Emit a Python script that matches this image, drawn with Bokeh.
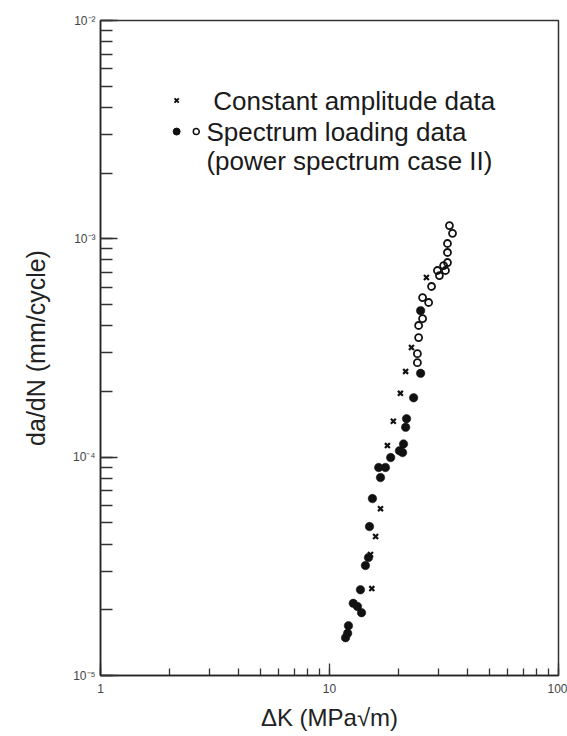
from bokeh.plotting import figure
from bokeh.models import CustomJSTickFormatter, Label, LogTicker
from bokeh.embed import file_html
from bokeh.resources import INLINE

# ---- data ----
const_dk = [15.3, 15.1, 15.9, 16.7, 17.9, 19.0, 20.4, 21.5, 22.8, 26.5]
const_rate = [2.50e-5, 3.58e-5, 4.33e-5, 5.81e-5, 1.13e-4, 1.46e-4, 1.96e-4, 2.47e-4, 3.18e-4, 6.65e-4]

spec_filled_dk = [11.75, 12.0, 12.1, 12.7, 13.25, 13.8, 13.65, 14.35, 14.8, 14.95, 15.4,
                  16.7, 16.4, 17.55, 18.5, 20.2, 21.05, 20.85, 21.7, 21.5, 23.3, 25.0, 25.0]
spec_filled_rate = [1.49e-5, 1.56e-5, 1.69e-5, 2.14e-5, 2.07e-5, 1.94e-5, 2.47e-5, 3.19e-5, 3.47e-5,
                    4.81e-5, 6.46e-5, 8.06e-5, 8.97e-5, 8.97e-5, 9.96e-5, 1.07e-4, 1.15e-4, 1.05e-4,
                    1.50e-4, 1.37e-4, 1.87e-4, 2.42e-4, 4.69e-4]

spec_open_dk = [33.4, 34.45, 32.75, 32.75, 32.75, 31.5, 29.6, 32.1, 30.2, 27.9, 25.5, 27.1,
                25.5, 24.5, 24.5, 24.2, 24.2]
spec_open_rate = [1.15e-3, 1.06e-3, 9.52e-4, 8.66e-4, 7.79e-4, 7.54e-4, 7.16e-4, 7.16e-4, 6.79e-4,
                  6.05e-4, 5.38e-4, 5.11e-4, 4.31e-4, 4.01e-4, 3.53e-4, 2.98e-4, 2.71e-4]

legend_texts = ["Constant amplitude data", "Spectrum loading data", "(power spectrum case II)"]
x_label = "ΔK (MPa√m)"
y_label = "da/dN (mm/cycle)"

# ---- figure ----
FONT = "Liberation Sans"
INK = "#111111"

p = figure(width=567, height=736, x_axis_type="log", y_axis_type="log",
           x_range=(1, 100), y_range=(1e-5, 1e-2),
           output_backend="svg", toolbar_location=None,
           min_border_left=100, min_border_right=9, min_border_top=20, min_border_bottom=61)
p.background_fill_color = "white"
p.border_fill_color = "white"
p.outline_line_color = "#333333"
p.outline_line_width = 1.5
p.xgrid.visible = False
p.ygrid.visible = False

sup_js = """
const m = {'-':'\u207b','0':'\u2070','1':'\u00b9','2':'\u00b2','3':'\u00b3','4':'\u2074','5':'\u2075','6':'\u2076','7':'\u2077','8':'\u2078','9':'\u2079'};
const e = Math.round(Math.log10(tick));
return '10' + String(e).split('').map(c => m[c]).join('');
"""
p.yaxis.formatter = CustomJSTickFormatter(code=sup_js)
p.xaxis.formatter = CustomJSTickFormatter(code="return String(Math.round(tick));")
p.xaxis.ticker = LogTicker(num_minor_ticks=10)
p.yaxis.ticker = LogTicker(num_minor_ticks=10)

for ax in (p.xaxis, p.yaxis):
    ax.axis_line_color = "#222222"
    ax.axis_line_width = 1.5
    ax.major_tick_line_color = "#333333"
    ax.minor_tick_line_color = "#333333"
    ax.major_tick_line_width = 1.3
    ax.minor_tick_line_width = 1.3
    ax.major_tick_out = 0
    ax.minor_tick_out = 0
    ax.major_label_text_font = FONT
    ax.major_label_text_font_size = "12px"
    ax.major_label_text_color = "#444444"
    ax.axis_label_text_font = FONT
    ax.axis_label_text_font_style = "normal"
    ax.axis_label_text_color = "#222222"

p.yaxis.major_tick_in = 17
p.yaxis.minor_tick_in = 12
p.xaxis.major_tick_in = 12
p.xaxis.minor_tick_in = 7
p.yaxis.major_label_standoff = 5
p.xaxis.major_label_standoff = 8
p.yaxis.axis_label = y_label
p.xaxis.axis_label = x_label
p.yaxis.axis_label_text_font_size = "25px"
p.xaxis.axis_label_text_font_size = "24px"
p.yaxis.axis_label_standoff = 20
p.xaxis.axis_label_standoff = 8

# ---- data marks ----
p.scatter(spec_filled_dk, spec_filled_rate, marker="circle", size=8.5,
          fill_color=INK, line_color=INK, line_width=0.5)
p.scatter(spec_open_dk, spec_open_rate, marker="circle", size=7,
          fill_color=None, line_color=INK, line_width=1.8)
p.scatter(const_dk, const_rate, marker="x", size=7, line_color=INK, line_width=2.2)

# ---- legend (layout positions in data space) ----
leg_rows_y = [4.30e-3, 3.10e-3, 2.28e-3]
p.scatter([2.15], [leg_rows_y[0]], marker="x", size=6, line_color=INK, line_width=2)
p.scatter([2.15], [leg_rows_y[1]], marker="circle", size=7, fill_color=INK, line_color=INK)
p.scatter([2.62], [leg_rows_y[1]], marker="circle", size=6, fill_color=None,
          line_color=INK, line_width=1.5)
text_x = [3.11, 2.90, 2.90]
for t, tx, ty in zip(legend_texts, text_x, leg_rows_y):
    p.add_layout(Label(x=tx, y=ty, text=t, text_font=FONT, text_font_size="26px",
                       text_color="#1a1a1a", text_baseline="middle", text_align="left"))

open("out.html", "w").write(file_html(p, INLINE))
